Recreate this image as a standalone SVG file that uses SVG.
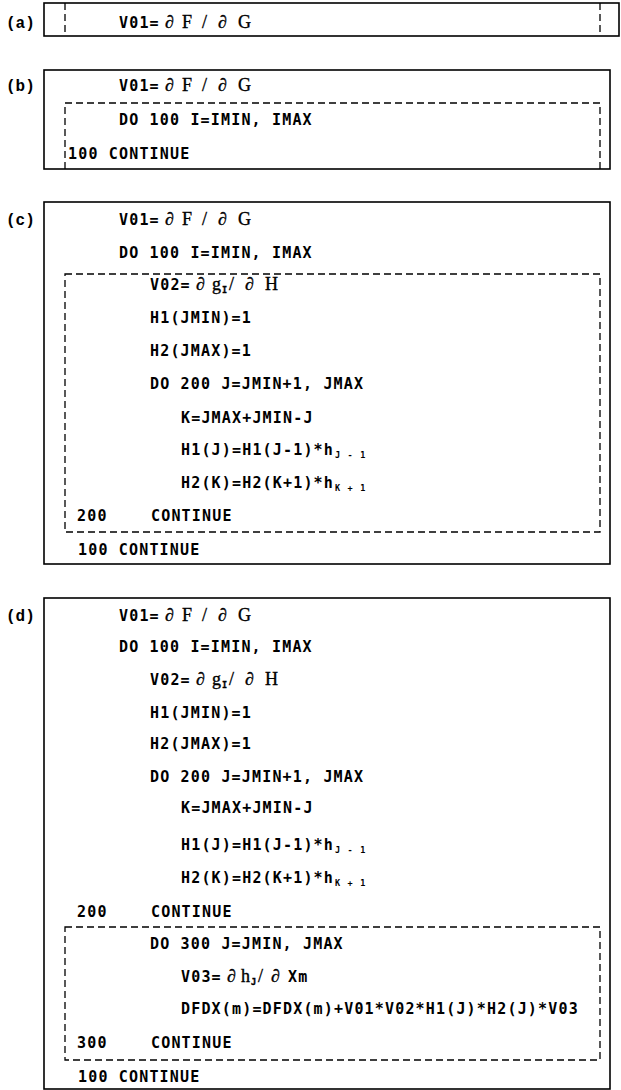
<svg xmlns="http://www.w3.org/2000/svg" width="621" height="1090" viewBox="0 0 621 1090">
<style>
.box{fill:none;stroke:#000;stroke-width:1.6}
.dash{fill:none;stroke:#000;stroke-width:1.3;stroke-dasharray:7 4}
.c{font-family:"DejaVu Sans Mono","Liberation Mono",monospace;font-weight:bold;font-size:15px;letter-spacing:1.17px;fill:#000}
.m{font-family:"Liberation Serif","DejaVu Serif",serif;font-size:18px;fill:#000;stroke:#000;stroke-width:0.35}
.s{font-family:"DejaVu Sans Mono","Liberation Mono",monospace;font-weight:bold;font-size:8.5px;fill:#000}
.lbl{font-family:"Liberation Mono","DejaVu Sans Mono",monospace;font-weight:bold;font-size:16px;fill:#000}
</style>
<rect width="621" height="1090" fill="#fff"/>

<g id="panel-a">
<text class="lbl" x="6" y="28">(a)</text>
<rect class="box" x="44" y="3" width="575" height="33"/>
<path class="dash" d="M65,3 V36 M600,3 V36"/>
<text class="c" x="119" y="28">V01=</text>
<text class="m" y="28"><tspan x="165">∂</tspan><tspan x="182">F</tspan><tspan x="202">/</tspan><tspan x="218">∂</tspan><tspan x="238">G</tspan></text>
</g>

<g id="panel-b">
<text class="lbl" x="6" y="91">(b)</text>
<rect class="box" x="44" y="70" width="566" height="99"/>
<g id="loop-b-100">
<path class="dash" d="M65,169 V103 H600 V169"/>
<text class="c" x="119" y="125">DO 100 I=IMIN, IMAX</text>
<text class="c" x="68" y="159">100 CONTINUE</text>
</g>
<text class="c" x="119" y="91">V01=</text>
<text class="m" y="91"><tspan x="165">∂</tspan><tspan x="182">F</tspan><tspan x="202">/</tspan><tspan x="218">∂</tspan><tspan x="238">G</tspan></text>
</g>

<g id="panel-c">
<text class="lbl" x="6" y="225">(c)</text>
<rect class="box" x="44" y="202" width="566" height="362"/>
<text class="c" x="119" y="225">V01=</text>
<text class="m" y="225"><tspan x="165">∂</tspan><tspan x="182">F</tspan><tspan x="202">/</tspan><tspan x="218">∂</tspan><tspan x="238">G</tspan></text>
<text class="c" x="119" y="258">DO 100 I=IMIN, IMAX</text>
<g id="loop-c-200">
<rect class="dash" x="65" y="274" width="535" height="258"/>
<text class="c" x="150" y="290">V02=</text>
<text class="m" y="290"><tspan x="196">∂</tspan><tspan x="212">g</tspan><tspan class="s" x="222" y="293">I</tspan><tspan x="229" y="290">/</tspan><tspan x="245">∂</tspan><tspan x="265">H</tspan></text>
<text class="c" x="150" y="323">H1(JMIN)=1</text>
<text class="c" x="150" y="356">H2(JMAX)=1</text>
<text class="c" x="150" y="389">DO 200 J=JMIN+1, JMAX</text>
<text class="c" x="181" y="423">K=JMAX+JMIN-J</text>
<text class="c" x="181" y="455">H1(J)=H1(J-1)*h<tspan class="s" dx="1" y="458">J - 1</tspan></text>
<text class="c" x="181" y="488">H2(K)=H2(K+1)*h<tspan class="s" dx="1" y="491">K + 1</tspan></text>
<text class="c" x="77" y="521">200</text>
<text class="c" x="151" y="521">CONTINUE</text>
</g>
<text class="c" x="78" y="555">100 CONTINUE</text>
</g>

<g id="panel-d">
<text class="lbl" x="6" y="621">(d)</text>
<rect class="box" x="44" y="598" width="566" height="491"/>
<text class="c" x="119" y="621">V01=</text>
<text class="m" y="621"><tspan x="165">∂</tspan><tspan x="182">F</tspan><tspan x="202">/</tspan><tspan x="218">∂</tspan><tspan x="238">G</tspan></text>
<text class="c" x="119" y="652">DO 100 I=IMIN, IMAX</text>
<text class="c" x="150" y="685">V02=</text>
<text class="m" y="685"><tspan x="196">∂</tspan><tspan x="212">g</tspan><tspan class="s" x="222" y="688">I</tspan><tspan x="229" y="685">/</tspan><tspan x="245">∂</tspan><tspan x="265">H</tspan></text>
<text class="c" x="150" y="718">H1(JMIN)=1</text>
<text class="c" x="150" y="749">H2(JMAX)=1</text>
<text class="c" x="150" y="782">DO 200 J=JMIN+1, JMAX</text>
<text class="c" x="181" y="813">K=JMAX+JMIN-J</text>
<text class="c" x="181" y="850">H1(J)=H1(J-1)*h<tspan class="s" dx="1" y="853">J - 1</tspan></text>
<text class="c" x="181" y="883">H2(K)=H2(K+1)*h<tspan class="s" dx="1" y="886">K + 1</tspan></text>
<text class="c" x="77" y="917">200</text>
<text class="c" x="151" y="917">CONTINUE</text>
<g id="loop-d-300">
<rect class="dash" x="65" y="927" width="535" height="133"/>
<text class="c" x="150" y="949">DO 300 J=JMIN, JMAX</text>
<text class="c" x="181" y="982">V03=</text>
<text class="m" y="982"><tspan x="227">∂</tspan><tspan x="241">h</tspan><tspan class="s" x="251" y="985">J</tspan><tspan x="258" y="982">/</tspan><tspan x="271">∂</tspan></text>
<text class="c" x="288" y="982">Xm</text>
<text class="c" x="181" y="1014">DFDX(m)=DFDX(m)+V01*V02*H1(J)*H2(J)*V03</text>
<text class="c" x="77" y="1048">300</text>
<text class="c" x="151" y="1048">CONTINUE</text>
</g>
<text class="c" x="78" y="1082">100 CONTINUE</text>
</g>
</svg>
